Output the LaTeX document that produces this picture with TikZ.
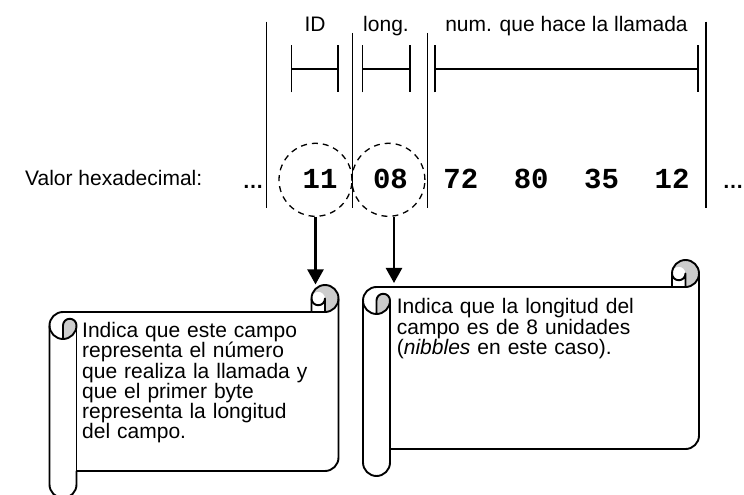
\documentclass[tikz,border=0pt]{standalone}
\usepackage{fontspec}
\setmainfont{Liberation Sans}
\setmonofont{Liberation Mono}
\usetikzlibrary{positioning, arrows.meta}

\newcommand{\hscroll}[4]{%
  \fill[curl] ({#1+13.5},{#4-54}) arc[start angle=-90, end angle=0, radius=13.5pt]
    arc[start angle=0, end angle=180, radius=6.75pt] -- cycle;
  \fill[curl] ({#3-13.5},{#4-27}) arc[start angle=-90, end angle=180, radius=13.5pt]
    arc[start angle=180, end angle=0, radius=6.75pt] -- cycle;
  \draw[scrollline] (#1,{#4-40.5}) arc[start angle=180, end angle=90, radius=13.5pt]
    -- ({#3-27},{#4-27}) -- ({#3-27},{#4-13.5})
    arc[start angle=180, end angle=0, radius=13.5pt]
    -- (#3,{#2+40.5}) arc[start angle=0, end angle=-90, radius=13.5pt]
    -- ({#1+27},{#2+27}) -- ({#1+27},{#2+13.5})
    arc[start angle=0, end angle=-180, radius=13.5pt] -- cycle;
  \draw[scrollline] ({#3-27},{#4-27}) -- ({#3-13.5},{#4-27})
    arc[start angle=-90, end angle=0, radius=13.5pt];
  \draw[scrollline] ({#3-13.5},{#4-27}) -- ({#3-13.5},{#4-13.5})
    arc[start angle=0, end angle=-180, radius=6.75pt];
  \draw[scrollline] ({#1+13.5},{#4-54}) -- ({#1+13.5},{#4-40.5})
    arc[start angle=180, end angle=0, radius=6.75pt]
    arc[start angle=0, end angle=-180, radius=13.5pt];
  \draw[scrollline] ({#1+27},{#4-40.5}) -- ({#1+27},{#2+27});
}

\begin{document}
\begin{tikzpicture}[x=1pt, y=1pt, on grid, node distance=70.4pt,
    hex/.style={font=\fontsize{29}{29}\selectfont\ttfamily\bfseries, text height=17pt, text depth=0pt, inner sep=0pt},
    ellip/.style={font=\fontsize{21}{21}\selectfont\bfseries, text height=17pt, text depth=0pt, inner sep=0pt},
    lbl/.style={font=\fontsize{21}{21}\selectfont, inner sep=0pt, anchor=base},
    ring/.style={circle, draw, line width=1.3pt, dash pattern=on 6pt off 5pt, minimum size=73pt, inner sep=0pt},
    sepline/.style={line width=1.1pt},
    spanbar/.style={line width=1.6pt, {Bar[width=47pt]}-{Bar[width=47pt]}},
    pointer/.style={line width=2.4pt, -{Triangle[width=16pt, length=15pt]}},
    curl/.style={fill=black!20},
    scrollline/.style={line width=1.9pt, line join=round},
    note/.style={font=\fontsize{21}{20.3}\selectfont, align=left, anchor=base west, inner sep=0pt}]
    \clip (0,0) rectangle (744,495);

    \node[lbl] (id) at (315,463.5) {ID};
    \node[lbl] (long) at (386,463.5) {long.};
    \node[lbl] (num) at (566.5,463.5) {num. que hace la llamada};

    \draw[sepline] (266.7,473.3) -- (266.7,287);
    \draw[sepline] (352.7,462) -- (352.7,287);
    \draw[sepline] (427.3,462) -- (427.3,287);
    \draw[sepline] (706,473.3) -- (706,287);

    \draw[spanbar] (290.7,426) -- (339,426);
    \draw[spanbar] (361.7,426) -- (410.7,426);
    \draw[spanbar] (434,426) -- (699,426);

    \node[lbl, anchor=base west] (valor) at (25,309) {Valor hexadecimal:};

    \node[hex] (11) at (320,315.2) {11};
    \node[hex, right=of 11] (08) {08};
    \node[hex, right=of 08] (72) {72};
    \node[hex, right=of 72] (80) {80};
    \node[hex, right=of 80] (35) {35};
    \node[hex, right=of 35] (12) {12};
    \node[ellip, left=67pt of 11] (dotsl) {…};
    \node[ellip, right=61pt of 12] (dotsr) {…};

    \node[ring, left=4.5pt of 11] (ring11) {};
    \node[ring, left=2pt of 08] (ring08) {};

    \coordinate[below=67.5pt of ring11.south] (tip11);
    \coordinate (tip08) at (394,212);
    \draw[pointer] (ring11) -- (tip11);
    \draw[pointer] (ring08.south -| tip08) -- (tip08);

    \hscroll{49.5}{-3}{338.5}{210}
    \hscroll{363}{19}{699}{235}

    \node[note, text width=250pt] (note11) at (82,157.5) {Indica que este campo\\
      representa el número\\ que realiza la llamada y\\ que el primer byte\\
      representa la longitud\\ del campo.};
    \node[note, text width=290pt] (note08) at (396.7,181) {Indica que la longitud del\\
      campo es de 8 unidades\\ (\textit{nibbles} en este caso).};
  \end{tikzpicture}
\end{document}
